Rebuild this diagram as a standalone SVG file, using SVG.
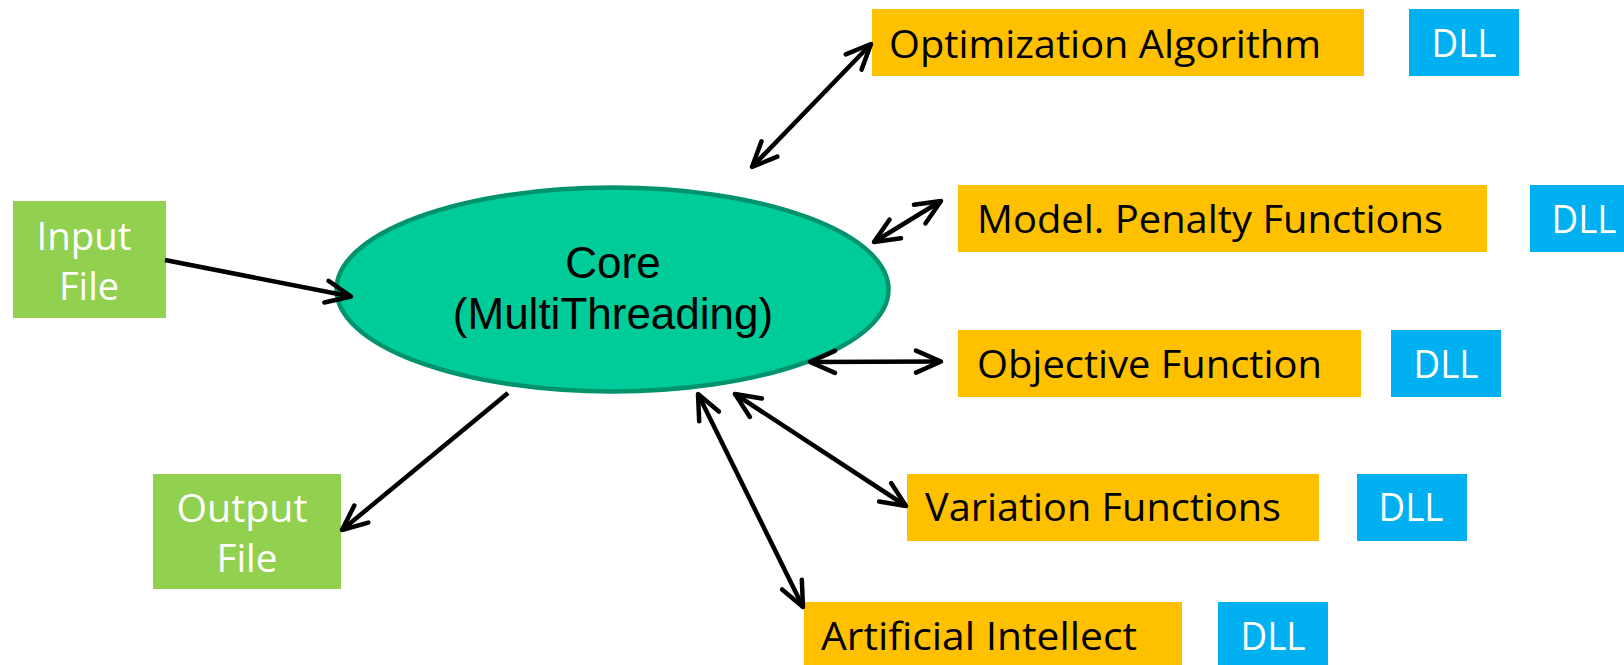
<svg xmlns="http://www.w3.org/2000/svg" width="1624" height="665" viewBox="0 0 1624 665">
<style>
.green{fill:#92D050}
.orange{fill:#FFC000}
.dll{fill:#00B0F0}
.lbl{font-family:"Open Sans","Noto Sans",sans-serif;font-size:38px;fill:#000}
.wlbl{font-family:"Open Sans","Noto Sans",sans-serif;font-size:38px;fill:#fff;text-anchor:middle}
.core{font-family:"Liberation Sans",Arial,sans-serif;font-size:44px;fill:#000;text-anchor:middle}
.conn{stroke:#000;stroke-width:4.5;fill:none}
</style>
<defs>
<marker id="ah" markerUnits="userSpaceOnUse" viewBox="-32 -16 38 32" refX="0" refY="0" markerWidth="38" markerHeight="32" orient="auto-start-reverse" overflow="visible">
<path d="M-25,-11 L0,0 L-25,11" fill="none" stroke="#000" stroke-width="4.5" stroke-linecap="round" stroke-linejoin="round"/>
</marker>
</defs>
<rect width="1624" height="665" fill="#fff"/>
<g id="input-file">
<rect class="green" x="13" y="201" width="153" height="117"/>
<text class="wlbl" x="84" y="250" textLength="95" lengthAdjust="spacingAndGlyphs">Input</text>
<text class="wlbl" x="89" y="300" textLength="60" lengthAdjust="spacingAndGlyphs">File</text>
</g>
<g id="output-file">
<rect class="green" x="153" y="474" width="188" height="115"/>
<text class="wlbl" x="242" y="522" textLength="131" lengthAdjust="spacingAndGlyphs">Output</text>
<text class="wlbl" x="247" y="572" textLength="61" lengthAdjust="spacingAndGlyphs">File</text>
</g>
<g id="core">
<ellipse cx="612.5" cy="289.5" rx="276" ry="102" fill="#00CC99" stroke="#00936E" stroke-width="4.5"/>
<text class="core" x="613" y="278">Core</text>
<text class="core" x="613" y="329">(MultiThreading)</text>
</g>
<g id="optimization-algorithm">
<rect class="orange" x="872" y="9" width="492" height="67"/>
<text class="lbl" x="889" y="58" textLength="432" lengthAdjust="spacingAndGlyphs">Optimization Algorithm</text>
</g>
<g id="dll-1">
<rect class="dll" x="1409" y="9" width="110" height="67"/>
<text class="wlbl" x="1464" y="57" textLength="65" lengthAdjust="spacingAndGlyphs">DLL</text>
</g>
<g id="model-penalty-functions">
<rect class="orange" x="958" y="185" width="529" height="67"/>
<text class="lbl" x="977" y="233" textLength="466" lengthAdjust="spacingAndGlyphs">Model. Penalty Functions</text>
</g>
<g id="dll-2">
<rect class="dll" x="1530" y="185" width="110" height="67"/>
<text class="wlbl" x="1584" y="233" textLength="65" lengthAdjust="spacingAndGlyphs">DLL</text>
</g>
<g id="objective-function">
<rect class="orange" x="958" y="330" width="403" height="67"/>
<text class="lbl" x="977" y="378" textLength="345" lengthAdjust="spacingAndGlyphs">Objective Function</text>
</g>
<g id="dll-3">
<rect class="dll" x="1391" y="330" width="110" height="67"/>
<text class="wlbl" x="1446" y="378" textLength="65" lengthAdjust="spacingAndGlyphs">DLL</text>
</g>
<g id="variation-functions">
<rect class="orange" x="907" y="474" width="412" height="67"/>
<text class="lbl" x="925" y="521" textLength="356" lengthAdjust="spacingAndGlyphs">Variation Functions</text>
</g>
<g id="dll-4">
<rect class="dll" x="1357" y="474" width="110" height="67"/>
<text class="wlbl" x="1411" y="521" textLength="65" lengthAdjust="spacingAndGlyphs">DLL</text>
</g>
<g id="artificial-intellect">
<rect class="orange" x="804" y="602" width="378" height="67"/>
<text class="lbl" x="821" y="650" textLength="316" lengthAdjust="spacingAndGlyphs">Artificial Intellect</text>
</g>
<g id="dll-5">
<rect class="dll" x="1218" y="602" width="110" height="67"/>
<text class="wlbl" x="1273" y="650" textLength="65" lengthAdjust="spacingAndGlyphs">DLL</text>
</g>
<g id="connectors">
<line class="conn" x1="165" y1="260" x2="351" y2="296.5" marker-end="url(#ah)"/>
<line class="conn" x1="508" y1="393" x2="342" y2="530" marker-end="url(#ah)"/>
<line class="conn" x1="752" y1="167" x2="871" y2="44" marker-start="url(#ah)" marker-end="url(#ah)"/>
<line class="conn" x1="874" y1="242" x2="941" y2="201" marker-start="url(#ah)" marker-end="url(#ah)"/>
<line class="conn" x1="810" y1="362" x2="941" y2="361.5" marker-start="url(#ah)" marker-end="url(#ah)"/>
<line class="conn" x1="735" y1="394" x2="906" y2="506" marker-start="url(#ah)" marker-end="url(#ah)"/>
<line class="conn" x1="698" y1="394" x2="803" y2="607" marker-start="url(#ah)" marker-end="url(#ah)"/>
</g>
</svg>
